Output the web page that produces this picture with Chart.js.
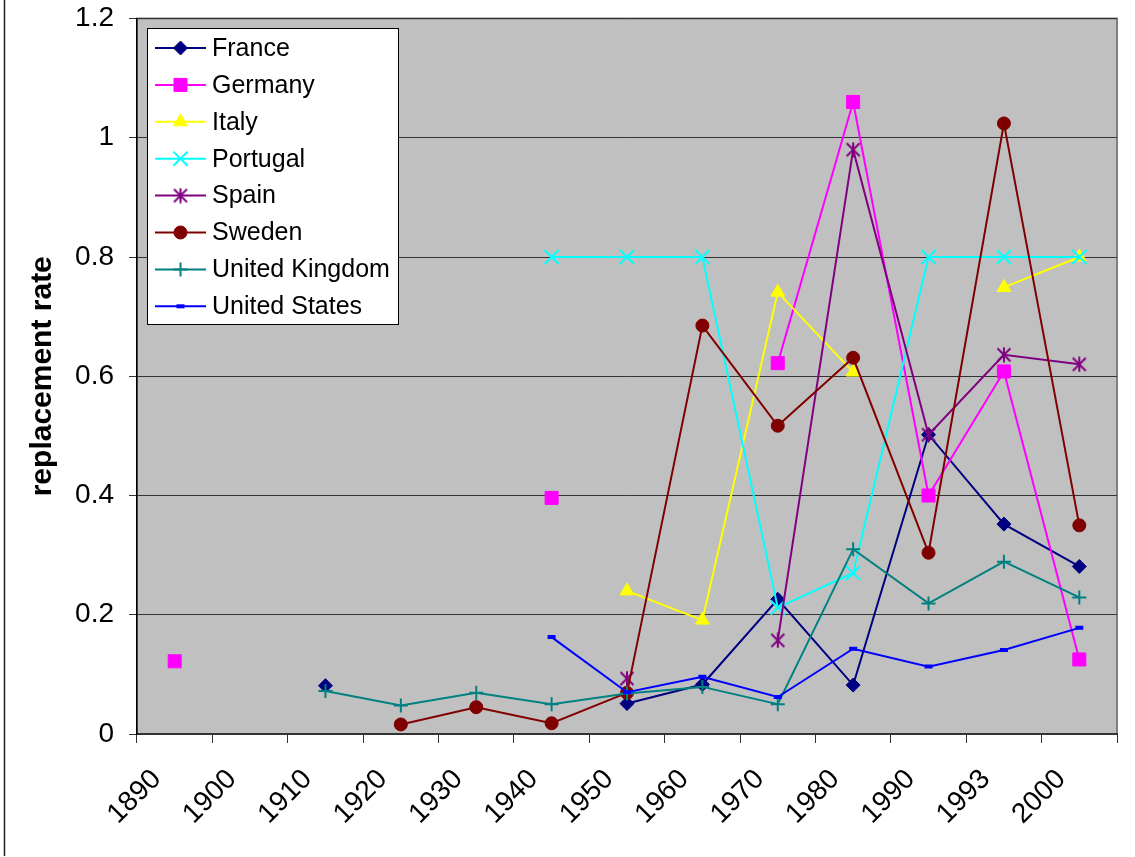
<!DOCTYPE html>
<html>
<head>
<meta charset="utf-8">
<script src="https://cdn.jsdelivr.net/npm/chart.js@4.4.1/dist/chart.umd.min.js"></script>
<style>
  html, body { margin: 0; padding: 0; background: #fff; }
  canvas { display: block; }
</style>
</head>
<body>
<canvas id="chart" width="1135" height="857"></canvas>
<script>
// Categories (x axis)
const years = ['1890', '1900', '1910', '1920', '1930', '1940', '1950', '1960', '1970', '1980', '1990', '1993', '2000'];

// Series values (replacement rate), null = no data
const france   = [null, null, 0.081, null, null, null, 0.051, 0.083, 0.226, 0.082, 0.502, 0.352, 0.281];
const germany  = [0.122, null, null, null, null, 0.396, null, null, 0.622, 1.06, 0.40, 0.608, 0.125];
const italy    = [null, null, null, null, null, null, 0.24, 0.191, 0.741, 0.607, null, 0.749, 0.80];
const portugal = [null, null, null, null, null, 0.80, 0.80, 0.80, 0.212, 0.27, 0.80, 0.80, 0.80];
const spain    = [null, null, null, null, null, null, 0.093, null, 0.157, 0.98, 0.502, 0.636, 0.62];
const sweden   = [null, null, null, 0.016, 0.045, 0.018, 0.069, 0.685, 0.517, 0.631, 0.304, 1.024, 0.35];
const uk       = [null, null, 0.072, 0.048, 0.069, 0.05, 0.068, 0.079, 0.05, 0.31, 0.219, 0.289, 0.229];
const us       = [null, null, null, null, null, 0.1625, 0.07, 0.096, 0.062, 0.143, 0.113, 0.141, 0.178];

// Y axis range / ticks
const yMin = 0;
const yMax = 1.2;
const yStep = 0.2;

const FONT = '"Liberation Sans", Arial, sans-serif';

// Excel-like asterisk marker for Spain
function asteriskMarker(color) {
    const c = document.createElement('canvas');
    c.width = 16; c.height = 16;
    const g = c.getContext('2d');
    g.strokeStyle = color;
    g.lineWidth = 2;
    g.beginPath();
    g.moveTo(1.5, 1.5); g.lineTo(14.5, 14.5);
    g.moveTo(14.5, 1.5); g.lineTo(1.5, 14.5);
    g.moveTo(8, 0.5); g.lineTo(8, 15.5);
    g.stroke();
    return c;
}

function series(label, data, color, style, radius, pbw, order) {
    return {
        label: label,
        data: data,
        borderColor: color,
        backgroundColor: color,
        borderWidth: 2,
        pointStyle: style,
        pointRadius: radius,
        pointBorderWidth: pbw,
        pointBackgroundColor: color,
        pointBorderColor: color,
        tension: 0,
        spanGaps: false,
        order: order
    };
}

const datasets = [
    series('France', france, '#000080', 'rectRot', 7, 1, 7),
    series('Germany', germany, '#FF00FF', 'rect', 9.2, 1, 6),
    series('Italy', italy, '#FFFF00', 'triangle', 8, 1, 5),
    series('Portugal', portugal, '#00FFFF', 'crossRot', 10, 2, 4),
    series('Spain', spain, '#800080', asteriskMarker('#800080'), 8, 1, 3),
    series('Sweden', sweden, '#800000', 'circle', 6.5, 1, 2),
    series('United Kingdom', uk, '#008080', 'cross', 7, 2, 1),
    series('United States', us, '#0000FF', 'line', 4, 4, 0)
];

// gray plot area + outer frame line
const plotBackground = {
    id: 'plotBackground',
    beforeDraw(chart) {
        const { ctx, chartArea: a } = chart;
        ctx.save();
        ctx.fillStyle = '#C0C0C0';
        ctx.fillRect(a.left, a.top, a.right - a.left, a.bottom - a.top);
        ctx.strokeStyle = '#808080';
        ctx.lineWidth = 2;
        ctx.strokeRect(a.left, a.top, a.right - a.left, a.bottom - a.top);
        ctx.strokeStyle = '#222';
        ctx.lineWidth = 1.5;
        ctx.beginPath();
        ctx.moveTo(4.5, 0);
        ctx.lineTo(4.5, 856);
        ctx.stroke();
        ctx.restore();
    }
};

// Excel style legend box inside the plot area
const boxLegend = {
    id: 'boxLegend',
    afterDraw(chart) {
        const ctx = chart.ctx;
        ctx.save();
        ctx.fillStyle = '#fff';
        ctx.strokeStyle = '#000';
        ctx.lineWidth = 1;
        ctx.fillRect(147.5, 28.5, 251, 296);
        ctx.strokeRect(147.5, 28.5, 251, 296);
        chart.data.datasets.forEach((ds, i) => {
            const y = 48 + i * 36.9;
            ctx.strokeStyle = ds.borderColor;
            ctx.lineWidth = 2;
            ctx.beginPath();
            ctx.moveTo(155, y);
            ctx.lineTo(206, y);
            ctx.stroke();
            ctx.fillStyle = ds.backgroundColor;
            ctx.lineWidth = ds.pointBorderWidth;
            Chart.helpers.drawPoint(ctx, {
                pointStyle: ds.pointStyle,
                radius: ds.pointRadius,
                borderWidth: ds.pointBorderWidth,
                rotation: 0
            }, 180.5, y);
            ctx.fillStyle = '#000';
            ctx.font = '25px ' + FONT;
            ctx.textAlign = 'left';
            ctx.textBaseline = 'middle';
            ctx.fillText(ds.label, 212, y + 1);
        });
        ctx.restore();
    }
};

new Chart(document.getElementById('chart').getContext('2d'), {
    type: 'line',
    data: { labels: years, datasets: datasets },
    plugins: [plotBackground, boxLegend],
    options: {
        responsive: false,
        animation: false,
        devicePixelRatio: 1,
        layout: { padding: { left: 10, top: 18.5, right: 18, bottom: 0 } },
        plugins: {
            legend: { display: false },
            tooltip: { enabled: false }
        },
        scales: {
            x: {
                type: 'category',
                offset: true,
                grid: {
                    offset: true,
                    drawOnChartArea: false,
                    drawTicks: true,
                    tickLength: 9,
                    color: '#333',
                    lineWidth: 1
                },
                border: { color: '#333', width: 2 },
                ticks: {
                    autoSkip: false,
                    minRotation: 45,
                    maxRotation: 45,
                    padding: 20,
                    labelOffset: -18,
                    color: '#000',
                    font: { family: FONT, size: 28 }
                },
                afterFit(scale) { scale.height = 123; }
            },
            y: {
                min: yMin,
                max: yMax,
                grid: { color: '#333', lineWidth: 1, tickLength: 8 },
                border: { color: '#000', width: 1.5 },
                ticks: {
                    stepSize: yStep,
                    padding: 15,
                    color: '#000',
                    font: { family: FONT, size: 28 },
                    callback: v => String(Math.round(v * 10) / 10)
                },
                title: {
                    display: true,
                    text: 'replacement rate',
                    color: '#000',
                    font: { family: FONT, size: 30, weight: 'bold' },
                    padding: { top: 15, bottom: 0 }
                },
                afterFit(scale) {
                    scale.width = 127;
                    scale.paddingTop = 0;
                    scale.paddingBottom = 0;
                }
            }
        }
    }
});
</script>
</body>
</html>
